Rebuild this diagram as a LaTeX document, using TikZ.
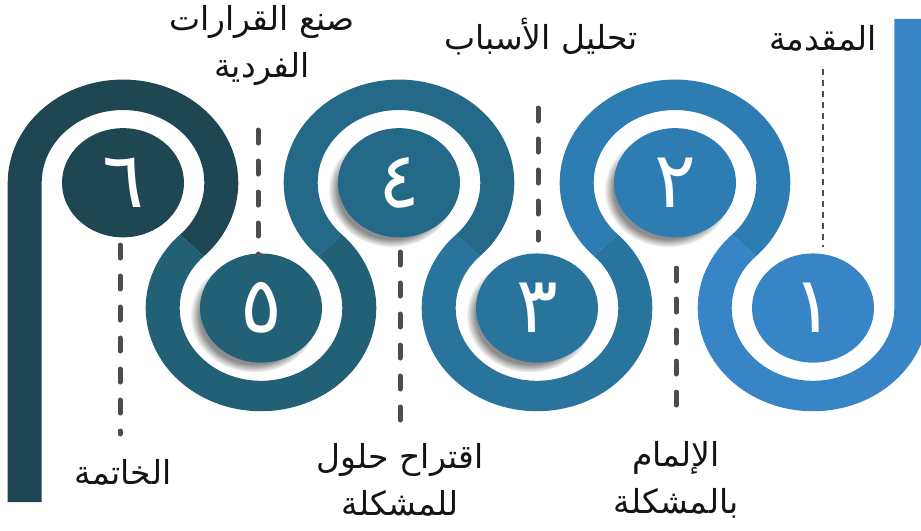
\documentclass[tikz,border=0pt]{standalone}
\usepackage{fontspec}
\newfontfamily\arabicfont[Script=Arabic]{DejaVu Sans}
\TeXXeTstate=1
\usetikzlibrary{calc,fadings}

\definecolor{ringA}{HTML}{3784C6}
\definecolor{ringB}{HTML}{2E7DB2}
\definecolor{ringC}{HTML}{28749C}
\definecolor{ringD}{HTML}{246987}
\definecolor{ringE}{HTML}{226076}
\definecolor{ringF}{HTML}{1E4753}
\definecolor{dashgray}{HTML}{4D4D4D}

\tikzset{
  digit/.style={text=white, font=\arabicfont\fontsize{78}{78}\selectfont, inner sep=0pt},
  steptext/.style={text=black!92, font=\arabicfont\fontsize{33}{47}\selectfont, align=center, inner sep=0pt},
  dashthick/.style={draw=dashgray, line width=5pt, line cap=round, dash pattern=on 13pt off 18pt},
  dashthin/.style={draw=dashgray, line width=2.5pt, dash pattern=on 6pt off 5pt},
  discshadow/.style={fill=black, opacity=.45, path fading=circle with fuzzy edge 15 percent}
}

\begin{document}
\begin{tikzpicture}[x=1pt, y=0.895pt]
    \useasboundingbox (0,0) rectangle (921,592.2);
    \def\ro{115.3} \def\ri{81.3} \def\rw{34} \def\rd{61}

    % Centros de los anillos
    \coordinate (c1) at (813,248);
    \coordinate (c2) at (675,388);
    \coordinate (c3) at (537,248);
    \coordinate (c4) at (399,388);
    \coordinate (c5) at (261,248);
    \coordinate (c6) at (123,388);

    % Barra derecha y anillo 1
    \fill[ringA] (928.3,571) -- (928.3,248) arc[start angle=0, end angle=-225.41, radius=\ro]
        -- ++(-225.41+180:\rw) arc[start angle=-225.41, end angle=0, radius=\ri] -- (894.3,571) -- cycle;

    % Anillos 2 a 5
    \foreach \c/\a/\b/\col in {c2/-45.41/225.41/ringB, c3/45.41/-225.41/ringC,
                               c4/-45.41/225.41/ringD, c5/45.41/-225.41/ringE} {
        \fill[\col] (\c) ++(\a:\ro) arc[start angle=\a, end angle=\b, radius=\ro]
            -- ++(\b+180:\rw) arc[start angle=\b, end angle=\a, radius=\ri] -- cycle;
    }

    % Anillo 6 y barra izquierda
    \fill[ringF] (c6) ++(-45.41:\ro) arc[start angle=-45.41, end angle=180, radius=\ro]
        -- (7.7,31.3) -- (41.7,31.3) -- (41.7,388) arc[start angle=180, end angle=-45.41, radius=\ri] -- cycle;

    % Sombras y discos
    \foreach \c in {c2,c3,c4,c5} {
        \fill[discshadow] ($(\c)+(-7,-8)$) circle (64);
    }
    \foreach \c/\col in {c1/ringA, c2/ringB, c3/ringC, c4/ringD, c5/ringE, c6/ringF} {
        \fill[\col] (\c) circle (\rd);
    }

    % Numeros
    \node[digit] (n1) at (c1) {١};
    \node[digit] (n2) at (c2) {٢};
    \node[digit] (n3) at (c3) {٣};
    \node[digit] (n4) at (c4) {٤};
    \node[digit] (n5) at (c5) {٥};
    \node[digit] (n6) at (c6) {٦};

    % Textos
    \node[steptext] (lab1) at (823,549.7) {\beginR المقدمة\endR};
    \node[steptext] (lab2) at (541,550.8) {\beginR تحليل الأسباب\endR};
    \node[steptext] (lab3) at (676,55.9) {\beginR الإلمام\endR\\\beginR بالمشكلة\endR};
    \node[steptext] (lab4) at (262,541.9) {\beginR صنع القرارات\endR\\\beginR الفردية\endR};
    \node[steptext] (lab5) at (400,55.9) {\beginR اقتراح حلول\endR\\\beginR للمشكلة\endR};
    \node[steptext] (lab6) at (123,64.8) {\beginR الخاتمة\endR};

    % Lineas discontinuas
    \coordinate (top1) at (823,515.1); \coordinate (bot1) at (823,316.2);
    \coordinate (top2) at (538,471.5); \coordinate (bot2) at (538,324.0);
    \coordinate (top3) at (676,292.7); \coordinate (bot3) at (676,136.3);
    \coordinate (top4) at (258,446.9); \coordinate (bot4) at (258,307.3);
    \coordinate (top5) at (400,310.6); \coordinate (bot5) at (400,122.9);
    \coordinate (top6) at (120,318.4); \coordinate (bot6) at (120,107.3);
    \draw[dashthin] (top1) -- (bot1);
    \foreach \i in {2,...,6} {
        \draw[dashthick] (top\i) -- (bot\i);
    }
\end{tikzpicture}
\end{document}
